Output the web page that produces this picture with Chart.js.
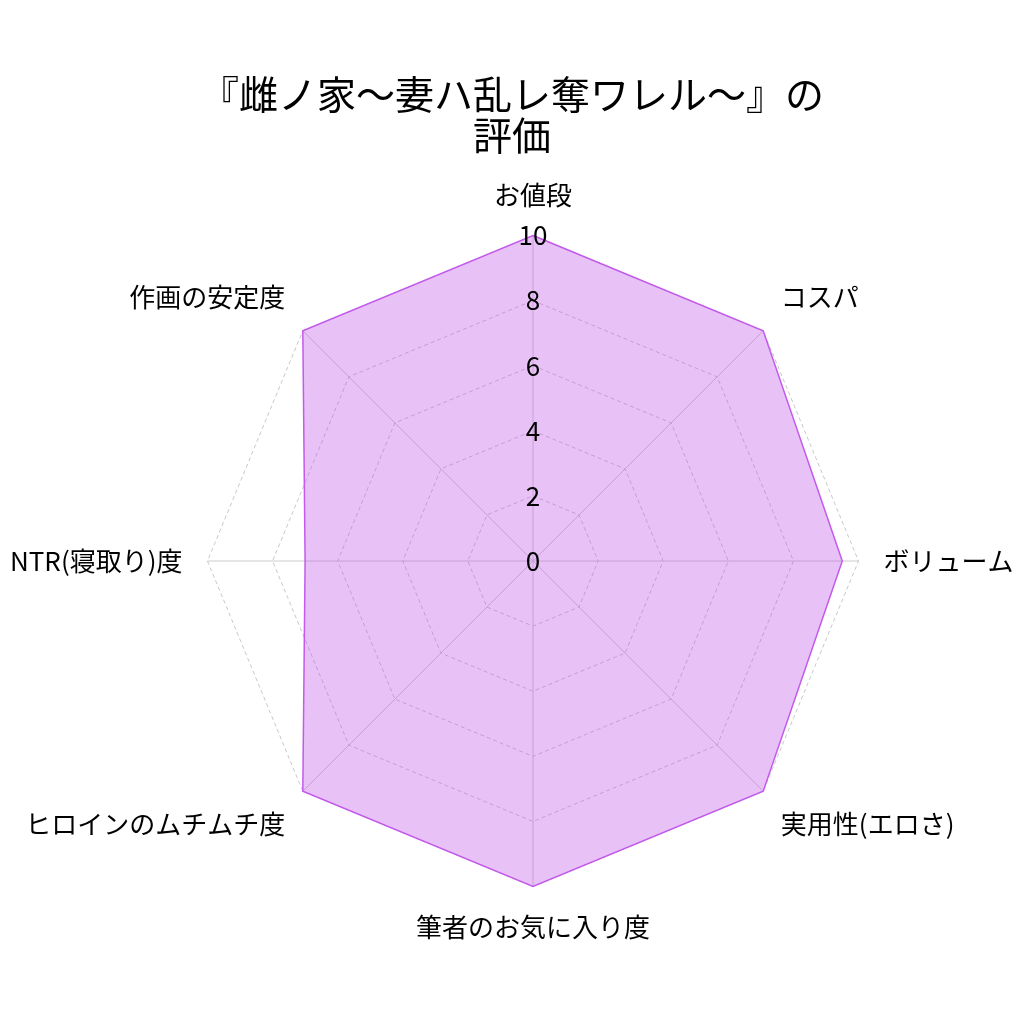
<!DOCTYPE html>
<html>
<head>
<meta charset="utf-8">
<script src="https://cdn.jsdelivr.net/npm/chart.js@4"></script>
<style>
  html, body { margin: 0; background: #fff; overflow: hidden; }
  /* a bit wider than the window so the radar gets the same radius as the reference */
  #wrap { width: 1046px; height: 1024px; margin-left: -11px; }
</style>
</head>
<body>
<div id="wrap"><canvas id="radar"></canvas></div>
<script>
const titleLines = ['『雌ノ家〜妻ハ乱レ奪ワレル〜』の', '評価'];
const categories = ['お値段', 'コスパ', 'ボリューム', '実用性(エロさ)', '筆者のお気に入り度', 'ヒロインのムチムチ度', 'NTR(寝取り)度', '作画の安定度'];
const scores = [10, 10, 9.5, 10, 10, 10, 7, 10];
const tickValues = [0, 2, 4, 6, 8, 10];

const fontFamily = '"Noto Sans CJK JP", "Noto Sans", sans-serif';

const ctx = document.getElementById('radar').getContext('2d');
const chart = new Chart(ctx, {
    type: 'radar',
    data: {
        labels: categories,
        datasets: [{
            data: scores,
            backgroundColor: 'rgba(190, 80, 230, 0.35)',
            borderColor: 'rgb(195, 90, 235)',
            borderWidth: 1.5,
            pointRadius: 0
        }]
    },
    options: {
        responsive: true,
        maintainAspectRatio: false,
        animation: false,
        layout: { padding: { top: 0, bottom: 58, left: 0, right: 0 } },
        plugins: {
            legend: { display: false },
            title: {
                display: true,
                text: titleLines,
                color: '#000',
                font: { family: fontFamily, size: 39, weight: 'normal', lineHeight: 1.05 },
                padding: { top: 74, bottom: 2 }
            }
        },
        scales: {
            r: {
                // tiny negative min so that the "0" tick label gets drawn
                min: -0.001,
                max: 10,
                afterBuildTicks: (scale) => {
                    scale.ticks = tickValues.map(v => ({ value: v }));
                },
                ticks: {
                    z: 1,
                    showLabelBackdrop: false,
                    color: '#000',
                    font: { family: fontFamily, size: 26 }
                },
                grid: { color: '#c8c8c8' },
                border: { dash: [4, 3] },
                angleLines: { color: '#cccccc' },
                pointLabels: {
                    color: '#000',
                    padding: 10,
                    font: { family: fontFamily, size: 26 }
                }
            }
        }
    }
});
</script>
</body>
</html>
